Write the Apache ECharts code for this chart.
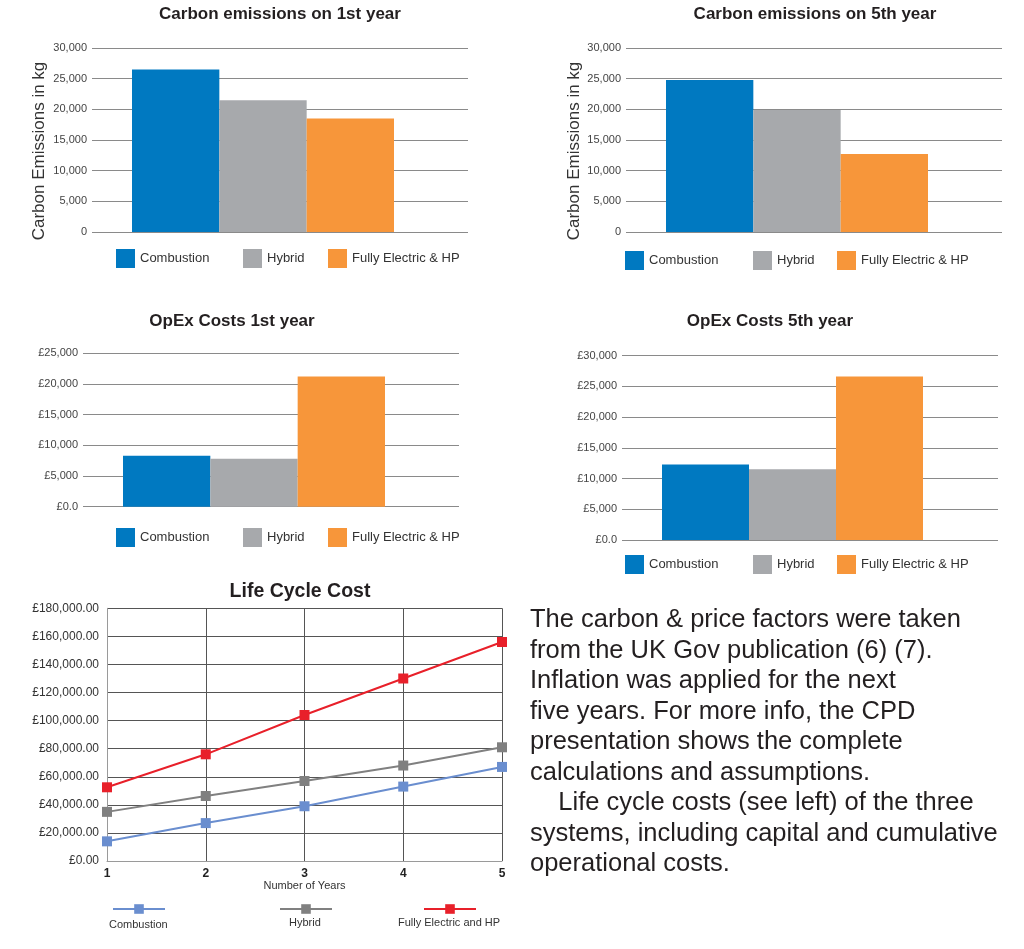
<!DOCTYPE html>
<html><head><meta charset="utf-8">
<script src="https://cdn.jsdelivr.net/npm/echarts@6/dist/echarts.min.js"></script>
<style>html,body{margin:0;padding:0;background:#fff}#c{width:1024px;height:949px}</style>
</head><body><div id="c"></div>
<script>
// ---- data ----
const systems = ['Combustion', 'Hybrid', 'Fully Electric & HP'];
const barColors = ['#0079C1', '#A7A9AC', '#F7963A'];
const carbonYear1 = [26500, 21500, 18500];
const carbonYear5 = [24800, 19900, 12700];
const opexYear1 = [8300, 7800, 21200];
const opexYear5 = [12300, 11500, 26600];
const years = [1, 2, 3, 4, 5];
const lccCombustion = [14000, 27000, 39000, 53000, 67000];
const lccHybrid = [35000, 46300, 57000, 68000, 81000];
const lccElectric = [52500, 76000, 104000, 130000, 156000];
const lccLabels = ['Combustion', 'Hybrid', 'Fully Electric and HP'];
const lccSeriesNames = ['LCC Combustion', 'LCC Hybrid', 'LCC Fully Electric and HP'];
const lccColors = ['#6A8ECF', '#808080', '#E8202A'];
const noteLines = [
  'The carbon & price factors were taken',
  'from the UK Gov publication (6) (7).',
  'Inflation was applied for the next',
  'five years. For more info, the CPD',
  'presentation shows the complete',
  'calculations and assumptions.',
  '\u00a0\u00a0\u00a0\u00a0Life cycle costs (see left) of the three',
  'systems, including capital and cumulative',
  'operational costs.'
];

const FONT = '"Liberation Sans", Arial, Helvetica, sans-serif';
const fmtPlain = v => v === 0 ? '0' : v.toLocaleString('en-US');
const fmtPound = v => v === 0 ? '£0.0' : '£' + v.toLocaleString('en-US');
const fmtPound2 = v => '£' + v.toLocaleString('en-US', {minimumFractionDigits: 2, maximumFractionDigits: 2});

const o = {
  animation: false,
  textStyle: {fontFamily: FONT},
  title: [], legend: [], grid: [], xAxis: [], yAxis: [], series: []
};

function addBarPanel(p) {
  const gA = o.grid.length;
  o.grid.push({left: p.gl, top: p.top, width: p.gw, height: p.h});
  o.grid.push({left: p.bl, top: p.top, width: p.bw, height: p.h});
  const xA = o.xAxis.length;
  o.xAxis.push({gridIndex: gA, type: 'category', data: [''], show: false});
  o.xAxis.push({gridIndex: gA + 1, type: 'category', data: systems, show: false});
  const yA = o.yAxis.length;
  o.yAxis.push({
    gridIndex: gA, type: 'value', min: 0, max: p.max, interval: 5000,
    axisLine: {show: false}, axisTick: {show: false},
    axisLabel: {formatter: p.fmt, fontSize: 11, color: '#444', margin: 5, fontFamily: FONT},
    splitLine: {lineStyle: {color: '#8a8a8a', width: 1}},
    name: p.yName || '', nameLocation: 'middle', nameGap: p.nameGap || 0,
    nameTextStyle: {fontSize: 17, color: '#333', fontFamily: FONT, padding: [0, 22, 0, 0]}
  });
  o.yAxis.push({gridIndex: gA + 1, type: 'value', min: 0, max: p.max, interval: 5000, show: false});
  systems.forEach((s, i) => {
    o.series.push({
      type: 'bar', name: s, xAxisIndex: xA + 1, yAxisIndex: yA + 1,
      barWidth: '100%', barGap: '-100%', silent: true,
      itemStyle: {color: barColors[i]},
      data: systems.map((_, j) => j === i ? p.values[i] : '-')
    });
  });
  o.title.push({
    text: p.title, left: p.tx, top: p.ty, textAlign: 'center', padding: 0,
    textStyle: {fontSize: 17, fontWeight: 'bold', color: '#231f20', fontFamily: FONT}
  });
  systems.forEach((s, i) => {
    o.legend.push({
      data: [s], left: p.ll[i], top: p.lt, icon: 'rect', itemWidth: 19, itemHeight: 19,
      selectedMode: false, padding: 0,
      textStyle: {fontSize: 13, color: '#333', fontFamily: FONT}
    });
  });
}

addBarPanel({title: 'Carbon emissions on 1st year', tx: 280, ty: 6, gl: 92, gw: 376, bl: 132, bw: 262,
  top: 48, h: 184, max: 30000, fmt: fmtPlain, values: carbonYear1,
  yName: 'Carbon Emissions in kg', nameGap: 44, ll: [116, 243, 328], lt: 249});
addBarPanel({title: 'Carbon emissions on 5th year', tx: 815, ty: 6, gl: 626, gw: 376, bl: 666, bw: 262,
  top: 48, h: 184, max: 30000, fmt: fmtPlain, values: carbonYear5,
  yName: 'Carbon Emissions in kg', nameGap: 43, ll: [625, 753, 837], lt: 251});
addBarPanel({title: 'OpEx Costs 1st year', tx: 232, ty: 313, gl: 83, gw: 376, bl: 123, bw: 262,
  top: 353.3, h: 153.4, max: 25000, fmt: fmtPound, values: opexYear1,
  ll: [116, 243, 328], lt: 528});
addBarPanel({title: 'OpEx Costs 5th year', tx: 770, ty: 313, gl: 622, gw: 376, bl: 662, bw: 261,
  top: 355.7, h: 184.3, max: 30000, fmt: fmtPound, values: opexYear5,
  ll: [625, 753, 837], lt: 555});

// ---- Life cycle line chart ----
const gL = o.grid.length;
o.grid.push({left: 107, top: 608.3, width: 395, height: 252.7});
const xL = o.xAxis.length;
o.xAxis.push({
  gridIndex: gL, type: 'value', min: 1, max: 5, interval: 1,
  axisLine: {show: true, lineStyle: {color: '#9a9a9a'}}, axisTick: {show: false},
  axisLabel: {fontSize: 12, fontWeight: 'bold', color: '#222', margin: 7, fontFamily: FONT},
  splitLine: {show: true, lineStyle: {color: '#555'}},
  name: 'Number of Years', nameLocation: 'middle', nameGap: 19,
  nameTextStyle: {fontSize: 11, color: '#333', fontFamily: FONT}
});
const yL = o.yAxis.length;
o.yAxis.push({
  gridIndex: gL, type: 'value', min: 0, max: 180000, interval: 20000,
  axisLine: {show: true, lineStyle: {color: '#9a9a9a'}}, axisTick: {show: false},
  axisLabel: {formatter: fmtPound2, fontSize: 12, color: '#333', margin: 8, fontFamily: FONT},
  splitLine: {lineStyle: {color: '#555'}}
});
[lccCombustion, lccHybrid, lccElectric].forEach((vals, i) => {
  o.series.push({
    type: 'line', name: lccSeriesNames[i], xAxisIndex: xL, yAxisIndex: yL,
    symbol: 'rect', symbolSize: 10, silent: true,
    lineStyle: {color: lccColors[i], width: 2}, itemStyle: {color: lccColors[i]},
    data: years.map((y, k) => [y, vals[k]])
  });
});
o.title.push({
  text: 'Life Cycle Cost', left: 300, top: 582, textAlign: 'center', padding: 0,
  textStyle: {fontSize: 19.5, fontWeight: 'bold', color: '#231f20', fontFamily: FONT}
});
const iconLefts = [112, 279, 423];
const textLefts = [104, 284, 393];
const textTops = [918, 916, 916];
lccSeriesNames.forEach((n, i) => {
  o.legend.push({
    data: [n], left: iconLefts[i], top: 903, itemWidth: 52, itemHeight: 12,
    selectedMode: false, padding: 0, formatter: () => '',
    textStyle: {fontSize: 11}
  });
  o.legend.push({
    data: [n], left: textLefts[i], top: textTops[i], icon: 'rect', itemWidth: 0, itemHeight: 14,
    selectedMode: false, padding: 0, formatter: () => lccLabels[i],
    textStyle: {fontSize: 11, color: '#333', fontFamily: FONT}
  });
});

// ---- note text ----
o.title.push({
  text: noteLines.join('\n'), left: 530, top: 605, padding: 0,
  textStyle: {fontSize: 25.5, fontWeight: 'normal', color: '#231f20', lineHeight: 30.5, fontFamily: FONT}
});

const chart = echarts.init(document.getElementById('c'), null, {renderer: 'canvas'});
chart.setOption(o);
</script>
</body></html>
